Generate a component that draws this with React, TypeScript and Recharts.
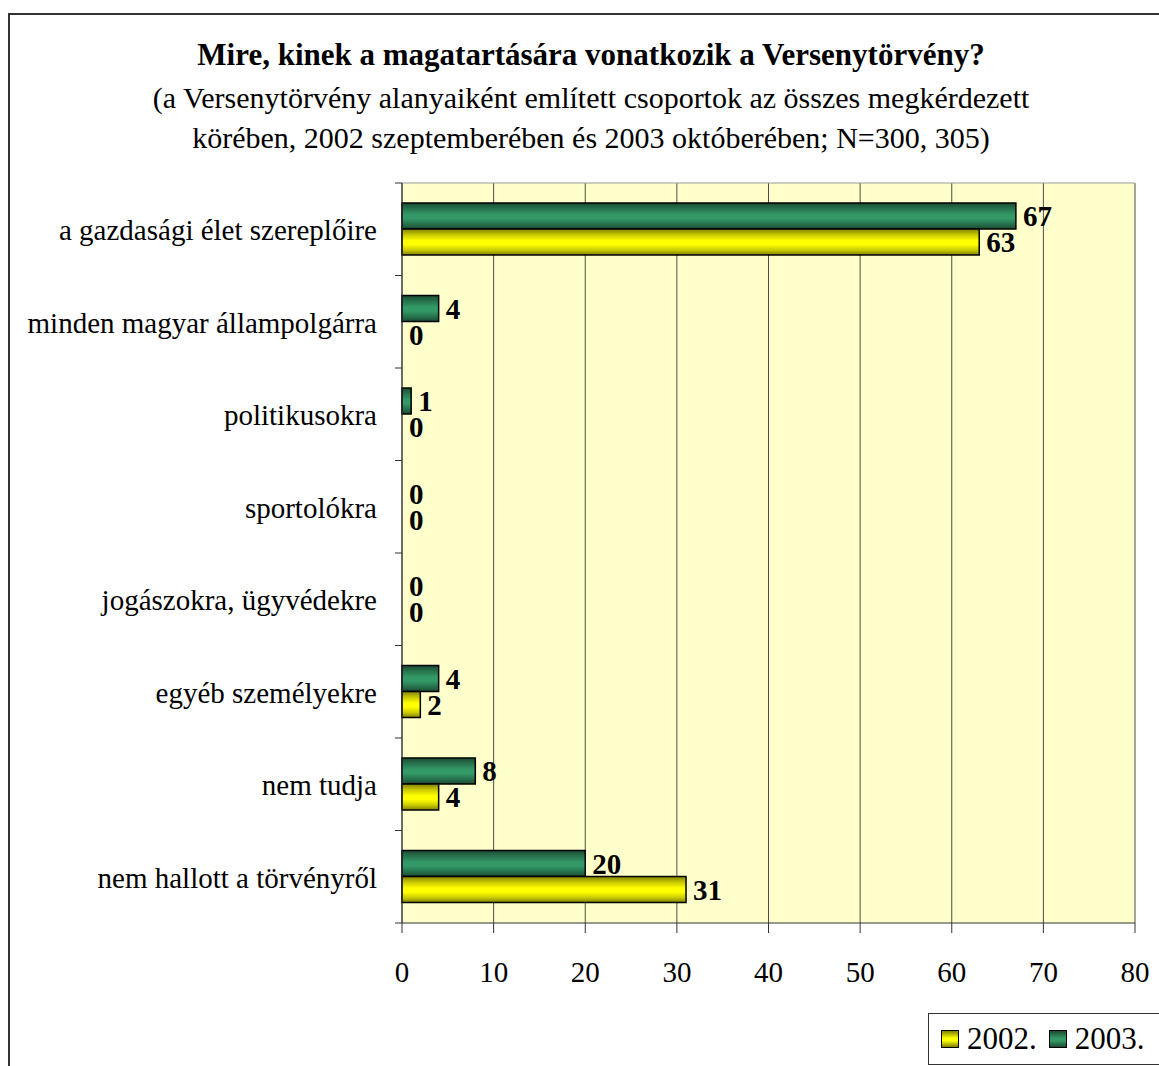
import { BarChart, Bar, XAxis, YAxis, CartesianGrid, LabelList, Rectangle } from 'recharts';

const categories = [
  'a gazdasági élet szereplőire',
  'minden magyar állampolgárra',
  'politikusokra',
  'sportolókra',
  'jogászokra, ügyvédekre',
  'egyéb személyekre',
  'nem tudja',
  'nem hallott a törvényről',
];
const values2002 = [63, 0, 0, 0, 0, 2, 4, 31];
const values2003 = [67, 4, 1, 0, 0, 4, 8, 20];
const xTicks = [0, 10, 20, 30, 40, 50, 60, 70, 80];

const data = categories.map((name, i) => ({ name, y2002: values2002[i], y2003: values2003[i] }));

const SERIF = '"Liberation Serif", "Times New Roman", serif';
const W = 1159;
const H = 1066;
const PLOT_TOP = 183;
const PLOT_BOTTOM = 923;
const BAND = (PLOT_BOTTOM - PLOT_TOP) / categories.length;

function CategoryTick(props: any) {
  const { x, y, payload, index } = props;
  const axisX = x + 8;
  return (
    <g>
      <line x1={axisX - 7} x2={axisX} y1={y - BAND / 2} y2={y - BAND / 2} stroke="#333" />
      {index === categories.length - 1 && (
        <line x1={axisX - 7} x2={axisX} y1={y + BAND / 2} y2={y + BAND / 2} stroke="#333" />
      )}
      <text x={x - 17} y={y} dy={11} textAnchor="end" fontFamily={SERIF} fontSize={29} fill="#000">
        {payload.value}
      </text>
    </g>
  );
}

// zero-valued bars keep a place for their label but draw nothing
function BarShape(props: any) {
  if (!props.value || (Array.isArray(props.value) && props.value[1] === 0)) return null;
  return <Rectangle {...props} />;
}

const labelStyle = { fontFamily: SERIF, fontSize: 29, fontWeight: 'bold', fill: '#000' } as const;

export default function App() {
  return (
    <div style={{ position: 'absolute', left: 0, top: 0, width: W, height: H, overflow: 'hidden', background: '#fff' }}>
      <style>{`body{margin:0;overflow:hidden}`}</style>
      <div style={{ position: 'absolute', left: 8, top: 13, width: 1200, height: 1100, border: '2px solid #333', boxSizing: 'border-box' }} />
      <div style={{ position: 'absolute', left: 0, top: 32, width: 1182, textAlign: 'center', fontFamily: SERIF, color: '#000' }}>
        <div style={{ fontSize: 31, fontWeight: 'bold', lineHeight: '46px' }}>
          Mire, kinek a magatartására vonatkozik a Versenytörvény?
        </div>
        <div style={{ fontSize: 30, lineHeight: '40px' }}>
          (a Versenytörvény alanyaiként említett csoportok az összes megkérdezett
        </div>
        <div style={{ fontSize: 30, lineHeight: '40px' }}>
          körében, 2002 szeptemberében és 2003 októberében; N=300, 305)
        </div>
      </div>
      <div style={{ position: 'absolute', left: 0, top: 0 }}>
        <BarChart
          width={W}
          height={H}
          data={data}
          layout="vertical"
          margin={{ top: PLOT_TOP, right: 24, bottom: 0, left: 0 }}
          barGap={0}
          barSize={26}
        >
          <defs>
            <linearGradient id="gGreen" x1="0" y1="0" x2="0" y2="1">
              <stop offset="0%" stopColor="#1c4a33" />
              <stop offset="20%" stopColor="#26704b" />
              <stop offset="45%" stopColor="#339966" />
              <stop offset="60%" stopColor="#339966" />
              <stop offset="82%" stopColor="#26704b" />
              <stop offset="100%" stopColor="#1c4a33" />
            </linearGradient>
            <linearGradient id="gYellow" x1="0" y1="0" x2="0" y2="1">
              <stop offset="0%" stopColor="#808000" />
              <stop offset="22%" stopColor="#c8c800" />
              <stop offset="45%" stopColor="#ffff00" />
              <stop offset="60%" stopColor="#ffff00" />
              <stop offset="82%" stopColor="#c8c800" />
              <stop offset="100%" stopColor="#808000" />
            </linearGradient>
          </defs>
          <CartesianGrid horizontal={false} vertical stroke="#4d4d4d" fill="#ffffcc" fillOpacity={1} />
          <CartesianGrid vertical={false} horizontal horizontalPoints={[PLOT_TOP]} stroke="#999" />
          <XAxis
            type="number"
            domain={[0, 80]}
            ticks={xTicks}
            interval={0}
            height={H - PLOT_BOTTOM}
            axisLine={{ stroke: '#333' }}
            tickLine={{ stroke: '#333' }}
            tickSize={10}
            tick={{ fontFamily: SERIF, fontSize: 29, fill: '#000', dy: 26 }}
          />
          <YAxis
            type="category"
            dataKey="name"
            width={402}
            axisLine={{ stroke: '#333' }}
            tickLine={false}
            tick={<CategoryTick />}
            interval={0}
          />
          <Bar dataKey="y2003" fill="url(#gGreen)" stroke="#000" strokeWidth={1.5} minPointSize={0.01} shape={<BarShape />} isAnimationActive={false}>
            <LabelList dataKey="y2003" position="right" offset={7} style={labelStyle} />
          </Bar>
          <Bar dataKey="y2002" fill="url(#gYellow)" stroke="#000" strokeWidth={1.5} minPointSize={0.01} shape={<BarShape />} isAnimationActive={false}>
            <LabelList dataKey="y2002" position="right" offset={7} style={labelStyle} />
          </Bar>
        </BarChart>
      </div>
      <div style={{ position: 'absolute', left: 928, top: 1013, width: 260, height: 52, border: '1px solid #333', boxSizing: 'border-box', background: '#fff', display: 'flex', alignItems: 'center', fontFamily: SERIF, fontSize: 31, color: '#000' }}>
        <span style={{ display: 'inline-block', width: 16, height: 16, marginLeft: 12, marginRight: 8, border: '1.5px solid #000', background: 'linear-gradient(#808000, #ffff00 45%, #ffff00 60%, #808000)' }} />
        <span>2002.</span>
        <span style={{ display: 'inline-block', width: 16, height: 16, marginLeft: 12, marginRight: 8, border: '1.5px solid #000', background: 'linear-gradient(#1c4a33, #339966 45%, #339966 60%, #1c4a33)' }} />
        <span>2003.</span>
      </div>
    </div>
  );
}
